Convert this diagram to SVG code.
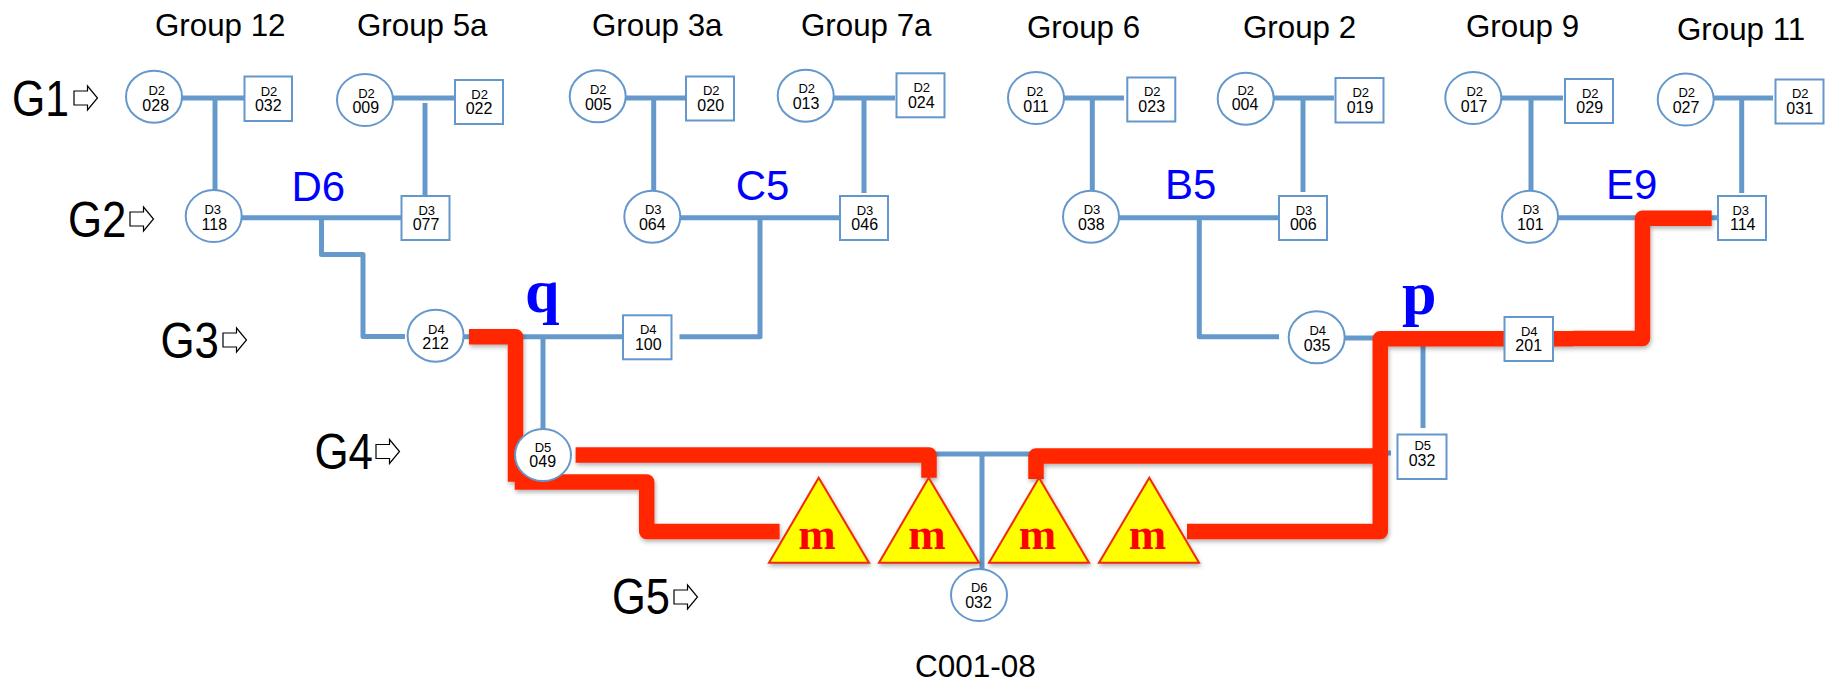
<svg xmlns="http://www.w3.org/2000/svg" width="1830" height="683" viewBox="0 0 1830 683">
<style>
text{font-family:"Liberation Sans",Arial,sans-serif;fill:#000}
.n{fill:#fff;stroke:#6497cb;stroke-width:2}
.d{font-size:13px;text-anchor:middle}
.v{font-size:16px;text-anchor:middle}
.gt{font-size:31.3px}
.g{font-size:50px}
.b{font-size:42px;fill:#00f}
.s{font-family:"Liberation Serif","Times New Roman",serif;font-weight:bold;font-size:62px;fill:#00f}
.m{font-family:"Liberation Serif","Times New Roman",serif;font-weight:bold;font-size:45px;fill:#f00;text-anchor:middle}
.t{fill:#ff0;stroke:#f02a0a;stroke-width:2}
.ar{fill:#fff;stroke:#000;stroke-width:1.2}
.c path{fill:none;stroke:#6599cc;stroke-width:5;stroke-linejoin:round}
.r path{fill:none;stroke:#ff2600;stroke-width:15.5;stroke-linejoin:round}
</style>
<defs>
<filter id="sh" x="-20%" y="-20%" width="140%" height="140%"><feDropShadow dx="1" dy="2.5" stdDeviation="2" flood-color="#000" flood-opacity="0.3"/></filter>
<path id="arrow" class="ar" d="M0 5H13.5V0L23.5 12L13.5 24V19H0Z"/>
</defs>
<g id="connectors">
<g class="c">
<path d="M182 98H246M215 98V191"/>
<path d="M393 98H457M425 103V196"/>
<path d="M621 98H686M653.7 98V192"/>
<path d="M832 98H895M864 98V193"/>
<path d="M1064 98H1124M1092.3 98V190"/>
<path d="M1274 98H1334M1303 98V192"/>
<path d="M1502 98H1563M1531 98V191"/>
<path d="M1714 98H1773M1741.7 98V193"/>
<path d="M242 217.7H401M321.5 218V254.5H363V336.5H405"/>
<path d="M680 217.7H840M760 218V336.7H679.5"/>
<path d="M1119 217.7H1279M1199.3 218V336.7H1279"/>
<path d="M1558 217.7H1640M1708 217.7H1720"/>
<path d="M463 336.7H624M543 336.7V430"/>
<path d="M1345 338H1380M1423 338V428"/>
<path d="M936 454H1036M982 454V570M1385 453H1391"/>
</g>
<g class="r" filter="url(#sh)">
<path d="M469 336.7H515.5V481.7"/>
<path d="M514.7 482H646.7V531.5H779.6"/>
<path d="M575.6 455H929V477.7"/>
<path d="M1043.7 456H1387.3M1036 479V456H1044"/>
<path d="M1187 531.5H1380.3V338.7H1573"/>
<path d="M1573 338.5H1642.5V218.3H1711.7"/>
</g>
</g>
<g id="labels">
<text class="gt" x="155" y="36">Group 12</text>
<text class="gt" x="357" y="36">Group 5a</text>
<text class="gt" x="592" y="36">Group 3a</text>
<text class="gt" x="801" y="36">Group 7a</text>
<text class="gt" x="1027" y="38.3">Group 6</text>
<text class="gt" x="1243" y="38.3">Group 2</text>
<text class="gt" x="1466" y="36.7">Group 9</text>
<text class="gt" x="1677" y="40">Group 11</text>
<text class="g" x="12" y="116" textLength="57" lengthAdjust="spacingAndGlyphs">G1</text>
<text class="g" x="68" y="236.7" textLength="58.5" lengthAdjust="spacingAndGlyphs">G2</text>
<text class="g" x="160.5" y="358.3" textLength="58.5" lengthAdjust="spacingAndGlyphs">G3</text>
<text class="g" x="314.5" y="469.3" textLength="58.5" lengthAdjust="spacingAndGlyphs">G4</text>
<text class="g" x="612" y="614" textLength="58" lengthAdjust="spacingAndGlyphs">G5</text>
<use href="#arrow" x="74" y="86"/>
<use href="#arrow" x="130" y="207"/>
<use href="#arrow" x="223" y="328"/>
<use href="#arrow" x="376" y="439.5"/>
<use href="#arrow" x="674" y="585"/>
<text class="b" x="291.5" y="201">D6</text>
<text class="b" x="735.7" y="200">C5</text>
<text class="b" x="1165" y="199">B5</text>
<text class="b" x="1606" y="199">E9</text>
<text class="s" x="525" y="312">q</text>
<text class="s" x="1402" y="314">p</text>
<text x="915" y="676.5" style="font-size:31.5px">C001-08</text>
</g>
<g id="n028"><ellipse class="n" cx="154" cy="96.7" rx="28" ry="26"/><text class="d" x="156.7" y="94.7">D2</text><text class="v" x="155.7" y="111">028</text></g>
<g id="n032a"><rect class="n" x="244.5" y="76.5" width="47.5" height="44.5"/><text class="d" x="269" y="95.7">D2</text><text class="v" x="268.3" y="111">032</text></g>
<g id="n009"><ellipse class="n" cx="365" cy="100" rx="28" ry="26"/><text class="d" x="366.5" y="97.7">D2</text><text class="v" x="365.8" y="113.3">009</text></g>
<g id="n022"><rect class="n" x="455" y="80" width="48" height="44"/><text class="d" x="479.6" y="99">D2</text><text class="v" x="479" y="114.3">022</text></g>
<g id="n005"><ellipse class="n" cx="597.7" cy="96.3" rx="28" ry="26"/><text class="d" x="598.3" y="94">D2</text><text class="v" x="598.3" y="110">005</text></g>
<g id="n020"><rect class="n" x="686" y="76.5" width="48" height="44"/><text class="d" x="711.3" y="95">D2</text><text class="v" x="710.7" y="111">020</text></g>
<g id="n013"><ellipse class="n" cx="805.7" cy="95.7" rx="28" ry="26"/><text class="d" x="806.7" y="93">D2</text><text class="v" x="806" y="109">013</text></g>
<g id="n024"><rect class="n" x="896.5" y="73.3" width="48" height="44"/><text class="d" x="921.7" y="92">D2</text><text class="v" x="921.3" y="107.7">024</text></g>
<g id="n011"><ellipse class="n" cx="1036" cy="98" rx="28" ry="26"/><text class="d" x="1035" y="96">D2</text><text class="v" x="1036" y="111.7">011</text></g>
<g id="n023"><rect class="n" x="1127.3" y="77.5" width="48" height="44"/><text class="d" x="1152.3" y="96">D2</text><text class="v" x="1151.7" y="111.7">023</text></g>
<g id="n004"><ellipse class="n" cx="1245.7" cy="98.7" rx="28" ry="26"/><text class="d" x="1245.7" y="95">D2</text><text class="v" x="1245" y="110">004</text></g>
<g id="n019"><rect class="n" x="1335.5" y="78" width="48" height="44.5"/><text class="d" x="1360.7" y="97">D2</text><text class="v" x="1360" y="112.7">019</text></g>
<g id="n017"><ellipse class="n" cx="1473.3" cy="98" rx="28" ry="26"/><text class="d" x="1474.7" y="96">D2</text><text class="v" x="1474" y="111.7">017</text></g>
<g id="n029"><rect class="n" x="1565" y="79" width="48" height="44"/><text class="d" x="1590.3" y="97.7">D2</text><text class="v" x="1589.7" y="113.3">029</text></g>
<g id="n027"><ellipse class="n" cx="1685.7" cy="99.5" rx="28" ry="26"/><text class="d" x="1686.7" y="97">D2</text><text class="v" x="1686" y="112.7">027</text></g>
<g id="n031"><rect class="n" x="1775.5" y="79.5" width="48" height="44"/><text class="d" x="1800.3" y="97.7">D2</text><text class="v" x="1799.7" y="114.3">031</text></g>
<g id="n118"><ellipse class="n" cx="213.7" cy="216" rx="28" ry="26"/><text class="d" x="212.7" y="214">D3</text><text class="v" x="214.3" y="230">118</text></g>
<g id="n077"><rect class="n" x="401.5" y="196" width="48" height="44"/><text class="d" x="426.7" y="215">D3</text><text class="v" x="426" y="230">077</text></g>
<g id="n064"><ellipse class="n" cx="652.3" cy="216.7" rx="28" ry="26"/><text class="d" x="653.3" y="214">D3</text><text class="v" x="652.3" y="230">064</text></g>
<g id="n046"><rect class="n" x="840" y="196" width="48" height="44"/><text class="d" x="865" y="215">D3</text><text class="v" x="864.7" y="230">046</text></g>
<g id="n038"><ellipse class="n" cx="1091" cy="216.7" rx="28" ry="26"/><text class="d" x="1092" y="214">D3</text><text class="v" x="1091.3" y="230">038</text></g>
<g id="n006"><rect class="n" x="1279" y="196" width="48" height="44"/><text class="d" x="1304" y="215">D3</text><text class="v" x="1303.3" y="230">006</text></g>
<g id="n101"><ellipse class="n" cx="1530" cy="216.7" rx="28" ry="26"/><text class="d" x="1531" y="214">D3</text><text class="v" x="1530.3" y="230">101</text></g>
<g id="n114"><rect class="n" x="1718" y="196" width="48" height="44"/><text class="d" x="1740.7" y="215">D3</text><text class="v" x="1742.7" y="230">114</text></g>
<g id="n212"><ellipse class="n" cx="435.6" cy="335.7" rx="28" ry="26"/><text class="d" x="436.4" y="334">D4</text><text class="v" x="435.6" y="349">212</text></g>
<g id="n100"><rect class="n" x="623" y="315.3" width="48.5" height="44"/><text class="d" x="648.3" y="334">D4</text><text class="v" x="648.3" y="350">100</text></g>
<g id="n035"><ellipse class="n" cx="1316.7" cy="337.3" rx="28" ry="26"/><text class="d" x="1317.7" y="335">D4</text><text class="v" x="1317" y="350.7">035</text></g>
<g id="n201"><rect class="n" x="1504.5" y="317" width="48.5" height="44"/><text class="d" x="1529.3" y="336">D4</text><text class="v" x="1528.7" y="350.7">201</text></g>
<g id="n049"><ellipse class="n" cx="543" cy="455" rx="28" ry="26"/><text class="d" x="543" y="452.3">D5</text><text class="v" x="542.7" y="466.7">049</text></g>
<g id="n032b"><rect class="n" x="1397.5" y="434.5" width="49" height="44.5"/><text class="d" x="1422.7" y="450">D5</text><text class="v" x="1422" y="466">032</text></g>
<g id="n032c"><ellipse class="n" cx="979" cy="595" rx="28" ry="26"/><text class="d" x="979.3" y="592.3">D6</text><text class="v" x="978.5" y="608.3">032</text></g>
<g id="m1"><path class="t" filter="url(#sh)" d="M818.7 477.7L869 562.7H769Z"/><text class="m" x="817" y="549">m</text></g>
<g id="m2"><path class="t" filter="url(#sh)" d="M928.7 477.7L979 562.7H879Z"/><text class="m" x="927" y="549">m</text></g>
<g id="m3"><path class="t" filter="url(#sh)" d="M1039 477.7L1089 562.7H989Z"/><text class="m" x="1037.5" y="549">m</text></g>
<g id="m4"><path class="t" filter="url(#sh)" d="M1149.3 477.7L1199 562.7H1099Z"/><text class="m" x="1147.5" y="549">m</text></g>
</svg>
